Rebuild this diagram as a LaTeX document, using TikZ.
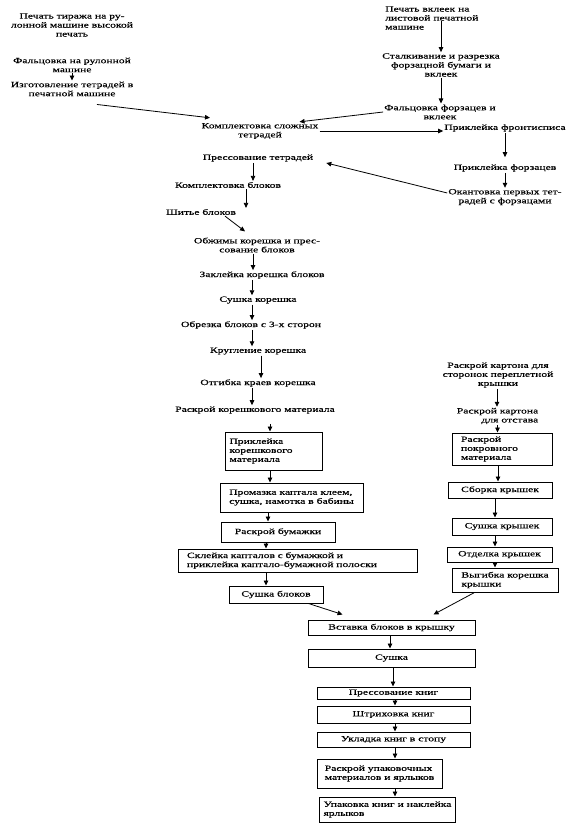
\documentclass[tikz,border=0pt]{standalone}
\usepackage{fontspec}
\setmainfont{Liberation Serif}[FakeStretch=1.45, FakeBold=0.4]
\usetikzlibrary{calc}
\usetikzlibrary{arrows.meta}

\begin{document}
\begin{tikzpicture}[
        x=1pt, y=-1pt,
        font=\fontsize{8}{9}\selectfont,
        txt/.style={inner sep=1pt, align=center},
        box/.style={draw, line width=1pt, inner xsep=4pt, inner ysep=1pt, align=center},
        lbox/.style={box, align=left},
        arrow/.style={-{Triangle[length=5pt,width=4.5pt]}, line width=0.8pt}
    ]
        \useasboundingbox (0,0) rectangle (587,824);

        \node[txt] (tirazh) at (72,25) {Печать тиража на ру-\\лонной машине высокой\\печать};
        \node[txt] (falc) at (72,65) {Фальцовка на рулонной\\машине};
        \node[txt] (izgot) at (72,89) {Изготовление тетрадей в\\печатной машине};
        \node[txt] (kompl) at (260,131) {Комплектовка сложных\\тетрадей};
        \node[txt, align=left, anchor=west] (pvkl) at (384,18) {Печать вклеек на\\листовой печатной\\машине};
        \node[txt] (stalk) at (441,65) {Сталкивание и разрезка\\форзацной бумаги и\\вклеек};
        \node[txt] (falcf) at (440,112) {Фальцовка форзацев и\\вклеек};
        \node[txt] (front) at (505,128) {Приклейка фронтисписа};
        \node[txt] (forz) at (505,168) {Приклейка форзацев};
        \node[txt] (okant) at (505,197) {Окантовка первых тет-\\радей с форзацами};
        \node[txt] (presst) at (258,158) {Прессование тетрадей};
        \node[txt] (komplb) at (228,185) {Комплектовка блоков};
        \node[txt] (shit) at (201,212) {Шитье блоков};
        \node[txt] (obzh) at (257,245) {Обжимы корешка и прес-\\сование блоков};
        \node[txt] (zakl) at (262,275) {Заклейка корешка блоков};
        \node[txt] (sushk) at (258,300) {Сушка корешка};
        \node[txt] (obrez) at (251,325) {Обрезка блоков с 3-х сторон};
        \node[txt] (krugl) at (258,351) {Кругление корешка};
        \node[txt] (otgib) at (258,383) {Отгибка краев корешка};
        \node[txt] (raskr) at (255,410) {Раскрой корешкового материала};

        \node[lbox, text width=89pt, minimum height=38pt] (prikl) at (274,451) {Приклейка\\корешкового\\материала};
        \node[lbox, minimum width=143pt, minimum height=29pt] (promaz) at (291.5,497.5) {Промазка каптала клеем,\\сушка, намотка в бабины};
        \node[box, minimum width=114pt, minimum height=20pt] (bumazh) at (278,532) {Раскрой бумажки};
        \node[lbox, text width=221pt, inner xsep=9pt, minimum height=23pt] (skleyka) at (297.5,560.5) {Склейка капталов с бумажкой и\\приклейка каптало-бумажной полоски};
        \node[box, minimum width=94pt, minimum height=17pt] (sushbl) at (276,594.5) {Сушка блоков};

        \node[txt] (karton) at (498,375) {Раскрой картона для\\сторонок переплетной\\крышки};
        \node[txt, align=right] (kartot) at (497.5,416) {Раскрой картона\\для отстава};
        \node[lbox, text width=82pt, inner xsep=9pt, minimum height=32pt] (pokrov) at (502,449) {Раскрой\\покровного\\материала};
        \node[box, minimum width=104pt, minimum height=16pt] (sborka) at (500,490) {Сборка крышек};
        \node[box, minimum width=100pt, minimum height=17pt] (sushkr) at (502,526.5) {Сушка крышек};
        \node[box, minimum width=105pt, minimum height=15pt] (otdel) at (499.5,554.5) {Отделка крышек};
        \node[lbox, minimum width=106pt, minimum height=24pt] (vygib) at (505,580) {Выгибка корешка\\крышки};

        \node[box, minimum width=167pt, minimum height=15pt] (vstav) at (391.5,627.5) {Вставка блоков в крышку};
        \node[box, minimum width=167pt, minimum height=18pt] (sushka) at (391.5,658) {Сушка};
        \node[box, minimum width=153pt, minimum height=12pt] (pressk) at (393.5,693) {Прессование книг};
        \node[box, minimum width=153pt, minimum height=17pt] (shtrih) at (393.5,714.5) {Штриховка книг};
        \node[box, minimum width=153pt, minimum height=15pt] (uklad) at (393.5,739.5) {Укладка книг в стопу};
        \node[lbox, minimum width=125pt, minimum height=29pt] (upakm) at (379.5,773.5) {Раскрой упаковочных\\материалов и ярлыков};
        \node[lbox, minimum width=131pt, minimum height=25pt] (upak) at (387.5,809.5) {Упаковка книг и наклейка\\ярлыков};

        \draw[arrow] (falc) -- (izgot);
        \draw[arrow] ([shift={(25pt,-7pt)}]izgot.south) -- ([shift={(-50pt,4pt)}]kompl.north);
        \draw[arrow] ($(stalk.north |- pvkl.south)+(0,-10)$) -- (stalk.north);
        \draw[arrow] (stalk.south) -- (stalk.south |- falcf.north);
        \draw[arrow] (falcf.west) -- ([xshift=-20pt]kompl.north east);
        \draw[arrow] (kompl.east) -- (kompl.east -| front.west);
        \draw[arrow] (front.south) -- ($(forz.north)+(0,-6)$);
        \draw[arrow] (forz) -- (okant);
        \draw[arrow] ([yshift=4pt]okant.west) -- ([shift={(12pt,-5pt)}]presst.east);

        \draw[arrow] ([xshift=-5pt]presst.south) -- ([xshift=-5pt]presst.south |- komplb.north);
        \draw[arrow] ([xshift=18pt]komplb.south) -- ([xshift=18pt]komplb.south |- shit.north);
        \draw[arrow] ([xshift=24pt]shit.south) -- ([shift={(-12pt,5pt)}]obzh.north);
        \draw[arrow] ([xshift=-4pt]obzh.south) -- ([xshift=-4pt]obzh.south |- zakl.north);
        \draw[arrow] ([xshift=-10pt]zakl.south) -- ([xshift=-10pt]zakl.south |- sushk.north);
        \draw[arrow] ([xshift=-6pt]sushk.south) -- ([xshift=-6pt]sushk.south |- obrez.north);
        \draw[arrow] ([xshift=1pt]obrez.south) -- ([xshift=1pt]obrez.south |- krugl.north);
        \draw[arrow] ([xshift=3pt]krugl.south) -- ([xshift=3pt]krugl.south |- otgib.north);
        \draw[arrow] ([xshift=-6pt]otgib.south) -- ([xshift=-6pt]otgib.south |- raskr.north);
        \draw[arrow] ($(prikl.north |- raskr.south)+(-4,9)$) -- ([xshift=-4pt]prikl.north);
        \draw[arrow] ([xshift=-4pt]prikl.south) -- ([xshift=-4pt]prikl.south |- promaz.north);
        \draw[arrow] ([xshift=-10pt]bumazh.north |- promaz.south) -- ([xshift=-10pt]bumazh.north);
        \draw[arrow] ([xshift=-12pt]bumazh.south) -- ([xshift=-12pt]bumazh.south |- skleyka.north);
        \draw[arrow] ([xshift=-10pt]sushbl.north |- skleyka.south) -- ([xshift=-10pt]sushbl.north);
        \draw[arrow] ([xshift=-15pt]sushbl.south east) -- ([shift={(35pt,5pt)}]vstav.north west);

        \draw[arrow] ([xshift=-1pt]karton.south) -- ([xshift=-1pt]karton.south |- kartot.north);
        \draw[arrow] (kartot.south) -- (kartot.south |- pokrov.north);
        \draw[arrow] ([xshift=-4pt]pokrov.south) -- ([xshift=-4pt]pokrov.south |- sborka.north);
        \draw[arrow] ([xshift=-5pt]sborka.south) -- ([xshift=-5pt]sborka.south |- sushkr.north);
        \draw[arrow] ([xshift=-7pt]sushkr.south) -- ([xshift=-7pt]sushkr.south |- otdel.north);
        \draw[arrow] ([xshift=-4.5pt]otdel.south) -- ([xshift=-4.5pt]otdel.south |- vygib.north);
        \draw[arrow] ([xshift=23pt]vygib.south west) -- ([shift={(-42pt,5pt)}]vstav.north east);

        \draw[arrow] ([xshift=-1.5pt]vstav.south) -- ([xshift=-1.5pt]vstav.south |- sushka.north);
        \draw[arrow] ([xshift=1.5pt]sushka.south) -- ([xshift=1.5pt]sushka.south |- pressk.north);
        \draw[arrow] ([xshift=1.5pt]pressk.south) -- ([xshift=1.5pt]pressk.south |- shtrih.north);
        \draw[arrow] ([xshift=1.5pt]shtrih.south) -- ([xshift=1.5pt]shtrih.south |- uklad.north);
        \draw[arrow] ([xshift=1.5pt]uklad.south) -- ([xshift=1.5pt]uklad.south |- upakm.north);
        \draw[arrow] ([xshift=15.5pt]upakm.south) -- ([xshift=15.5pt]upakm.south |- upak.north);
    \end{tikzpicture}
\end{document}
